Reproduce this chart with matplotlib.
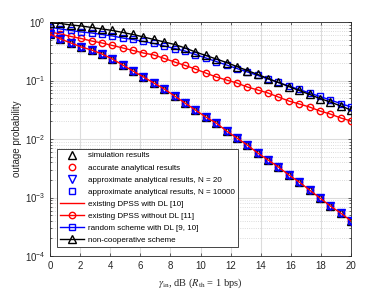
import numpy as np
import matplotlib
matplotlib.use('Agg')
import matplotlib.pyplot as plt

plt.rcParams['font.family'] = ['Liberation Sans', 'DejaVu Sans']
plt.rcParams['mathtext.fontset'] = 'stix'

# SNR axis, dB (30 points, 0..20)
snr_db = np.linspace(0, 20, 30)

# proposed DPSS with DL (simulation / analytical curves all lie on it)
dpss_dl = [0.623, 0.512, 0.438, 0.374, 0.332, 0.284, 0.233, 0.184, 0.145, 0.115,
           0.0906, 0.0716, 0.0543, 0.0412, 0.0313, 0.0238, 0.0188, 0.0137, 0.0104, 0.00789,
           0.00577, 0.00438, 0.00332, 0.00243, 0.00184, 0.00134, 0.00098, 0.000716, 0.000543, 0.000397]

# existing DPSS without DL [11]
dpss_no_dl = [0.675, 0.623, 0.565, 0.522, 0.473, 0.438, 0.397, 0.360, 0.326, 0.295,
              0.273, 0.238, 0.207, 0.181, 0.157, 0.134, 0.115, 0.102, 0.0906, 0.0774,
              0.0689, 0.0611, 0.0522, 0.0446, 0.0397, 0.0352, 0.0301, 0.0267, 0.0229, 0.0203]

# random scheme with DL [9, 10]
random_dl = [0.821, 0.759, 0.716, 0.675, 0.649, 0.611, 0.577, 0.532, 0.502, 0.464,
             0.429, 0.389, 0.352, 0.319, 0.278, 0.243, 0.211, 0.184, 0.160, 0.140,
             0.122, 0.106, 0.0925, 0.0805, 0.0702, 0.0611, 0.0533, 0.0464, 0.0404, 0.0352]

# non-cooperative scheme
non_coop = [0.961, 0.943, 0.889, 0.855, 0.805, 0.759, 0.716, 0.662, 0.611, 0.554,
            0.502, 0.455, 0.412, 0.360, 0.307, 0.268, 0.233, 0.203, 0.173, 0.148,
            0.127, 0.108, 0.0925, 0.0789, 0.0675, 0.0577, 0.0492, 0.0429, 0.0367, 0.0313]

fig = plt.figure(figsize=(3.88, 2.93), dpi=100)
ax = fig.add_axes([0.129, 0.126, 0.776, 0.799])

ms_t = 5.2   # triangles
ms_o = 4.6   # circles / squares
lw = 1.0
mew = 1.0

# marker-only series on the DPSS-with-DL curve
h_sim, = ax.plot(snr_db, dpss_dl, '^', color='k', ms=ms_t, mfc='none', mew=mew, zorder=3)
h_acc, = ax.plot(snr_db, dpss_dl, 'o', color='r', ms=ms_o, mfc='none', mew=mew, zorder=3)
h_n1e4, = ax.plot(snr_db, dpss_dl, 's', color='b', ms=ms_o, mfc='none', mew=mew, zorder=4)
h_n20, = ax.plot(snr_db, dpss_dl, 'v', color='b', ms=ms_t, mfc='none', mew=mew, zorder=4)
h_dl, = ax.plot(snr_db, dpss_dl, '-', color='r', lw=lw, zorder=5)

h_nodl, = ax.plot(snr_db, dpss_no_dl, 'o-', color='r', ms=ms_o, mfc='none', mew=mew, lw=lw, zorder=3)
h_rand, = ax.plot(snr_db, random_dl, 's-', color='b', ms=ms_o, mfc='none', mew=mew, lw=lw, zorder=3)
h_nc, = ax.plot(snr_db, non_coop, '^-', color='k', ms=ms_t, mfc='none', mew=mew, lw=lw, zorder=3)

ax.set_yscale('log')
ax.set_xlim(0, 20)
ax.set_ylim(1e-4, 1)
ax.set_xticks(np.arange(0, 21, 2))
ax.set_yticks([1e-4, 1e-3, 1e-2, 1e-1, 1])

ax.grid(True, which='major', color='#dcdcdc', lw=0.8, ls='-')
ax.grid(True, which='minor', axis='y', color='#d0d0d0', lw=0.6, ls=':')
ax.set_axisbelow(True)
ax.tick_params(which='both', direction='in', top=True, right=True,
               labelsize=7, colors='#262626', length=2.5, width=0.5)
ax.tick_params(which='minor', length=1.5)
for s in ax.spines.values():
    s.set_color('#262626')
    s.set_linewidth(0.6)

ax.set_ylabel('outage probability', fontsize=7, color='#262626', labelpad=2)
ax.set_xlabel(r'$\gamma_{\rm in}$, dB ($R_{\rm th}$ = 1 bps)', fontsize=7.5,
              family='Liberation Serif', color='#262626', labelpad=4)

handles = [h_sim, h_acc, h_n20, h_n1e4, h_dl, h_nodl, h_rand, h_nc]
labels = ['simulation results', 'accurate analytical results',
          'approximate analytical results, N = 20',
          'approximate analytical results, N = 10000',
          'existing DPSS with DL [10]', 'existing DPSS without DL [11]',
          'random scheme with DL [9, 10]', 'non-cooperative scheme']
leg = ax.legend(handles, labels, loc='lower left', bbox_to_anchor=(0.023, 0.038),
                borderaxespad=0, fontsize=5.8, handlelength=3.0, labelspacing=0.55,
                handletextpad=0.5, borderpad=0.4, fancybox=False, framealpha=1,
                edgecolor='#262626')
leg.get_frame().set_linewidth(0.6)

fig.savefig('out.png', dpi=100)
